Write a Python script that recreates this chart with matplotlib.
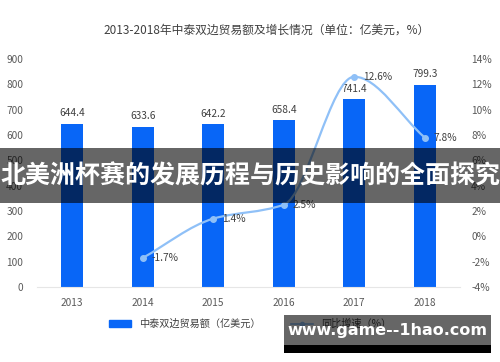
import matplotlib.pyplot as plt
import matplotlib.patches as mpatches
from matplotlib.path import Path
from matplotlib.lines import Line2D
import numpy as np

plt.rcParams['font.family'] = ['Noto Sans CJK SC', 'DejaVu Sans']

years = ['2013', '2014', '2015', '2016', '2017', '2018']
trade = [644.4, 633.6, 642.2, 658.4, 741.4, 799.3]
growth_years = ['2014', '2015', '2016', '2017', '2018']
growth = [-1.7, 1.4, 2.5, 12.6, 7.8]

title = '2013-2018年中泰双边贸易额及增长情况（单位：亿美元，%）'
bar_label = '中泰双边贸易额（亿美元）'
line_label = '同比增速（%）'
banner = '北美洲杯赛的发展历程与历史影响的全面探究'
watermark = 'www.game--1hao.com'

bar_color = '#0866f7'
line_color = '#8fc0f7'
tick_color = '#595959'

fig = plt.figure(figsize=(5, 3.62), dpi=100)
ax = fig.add_axes([0.074, 0.207, 0.846, 0.63])
x = np.arange(len(years))
ax.bar(x, trade, width=0.31, color=bar_color, zorder=2)
for xi, v in zip(x, trade):
    ax.text(xi, v + 22, f'{v}', ha='center', va='bottom', fontsize=7.3, color='#404040')
ax.set_xlim(-0.5, 5.5)
ax.set_ylim(0, 900)
ax.set_yticks(range(0, 901, 100))
ax.set_xticks(x)
ax.set_xticklabels(years)
ax.tick_params(axis='both', length=0, labelsize=7.3, colors=tick_color)
ax.tick_params(axis='x', pad=8)
ax.tick_params(axis='y', pad=10)
for s in ['top', 'right', 'left']:
    ax.spines[s].set_visible(False)
ax.spines['bottom'].set_color('#e6e6e6')

ax2 = ax.twinx()
ax2.set_ylim(-4, 14)
ax2.set_yticks(range(-4, 15, 2))
ax2.set_yticklabels([f'{t}%' for t in range(-4, 15, 2)])
ax2.tick_params(axis='y', length=0, labelsize=7.3, colors=tick_color, pad=8)
for s in ax2.spines.values():
    s.set_visible(False)

gx = np.array([years.index(y) for y in growth_years], dtype=float)
gy = np.array(growth, dtype=float)
# smooth monotone curve through the points, drawn as cubic Bezier segments
d = np.diff(gy) / np.diff(gx)
m = np.zeros_like(gy)
m[0], m[-1] = d[0], d[-1]
for i in range(1, len(gy) - 1):
    m[i] = 0 if d[i - 1] * d[i] <= 0 else 2 / (1 / d[i - 1] + 1 / d[i])
verts = [(gx[0], gy[0])]
codes = [Path.MOVETO]
for i in range(len(gx) - 1):
    h = gx[i + 1] - gx[i]
    verts += [(gx[i] + h / 3, gy[i] + m[i] * h / 3),
              (gx[i + 1] - h / 3, gy[i + 1] - m[i + 1] * h / 3),
              (gx[i + 1], gy[i + 1])]
    codes += [Path.CURVE4] * 3
ax2.add_patch(mpatches.PathPatch(Path(verts, codes), fill=False, edgecolor=line_color, lw=1.6, zorder=3))
ax2.plot(gx, gy, 'o', color=line_color, markersize=4, zorder=4)
for xi, v in zip(gx, gy):
    ax2.text(xi + 0.12, v, f'{v}%', ha='left', va='center', fontsize=7.3, color='#404040')

fig.text(0.534, 0.918, title, ha='center', va='center', fontsize=8.5, color='#404040')

handles = [mpatches.Patch(color=bar_color),
           Line2D([0], [0], color=line_color, marker='o', markersize=3, lw=1.2)]
fig.legend(handles, [bar_label, line_label], loc='center', bbox_to_anchor=(0.5, 0.105),
           ncol=2, frameon=False, fontsize=7.3, handlelength=2.2, handleheight=0.6,
           columnspacing=3, labelcolor='#404040')

# banner overlay
fig.patches.append(mpatches.Rectangle((0, 1 - 203 / 362), 1, 55 / 362, transform=fig.transFigure,
                                      facecolor='black', alpha=0.6, zorder=10))
fig.text(0.5, 1 - 176 / 362, banner, ha='center', va='center', fontsize=18,
         fontweight='bold', color='white', zorder=11)

# watermark
fig.patches.append(mpatches.Rectangle((284 / 500, 1 - 345 / 362), 207 / 500, 30 / 362,
                                      transform=fig.transFigure, facecolor='black', alpha=0.6, zorder=10))
fig.patches.append(mpatches.Rectangle((284 / 500, 1 - 353 / 362), 207 / 500, 8 / 362,
                                      transform=fig.transFigure, facecolor='black', zorder=10))
fig.text(387 / 500, 1 - 331 / 362, watermark, ha='center', va='center', fontsize=11.5,
         fontweight='bold', color='white', family='DejaVu Sans', zorder=11)

fig.savefig('out.png', dpi=100)
